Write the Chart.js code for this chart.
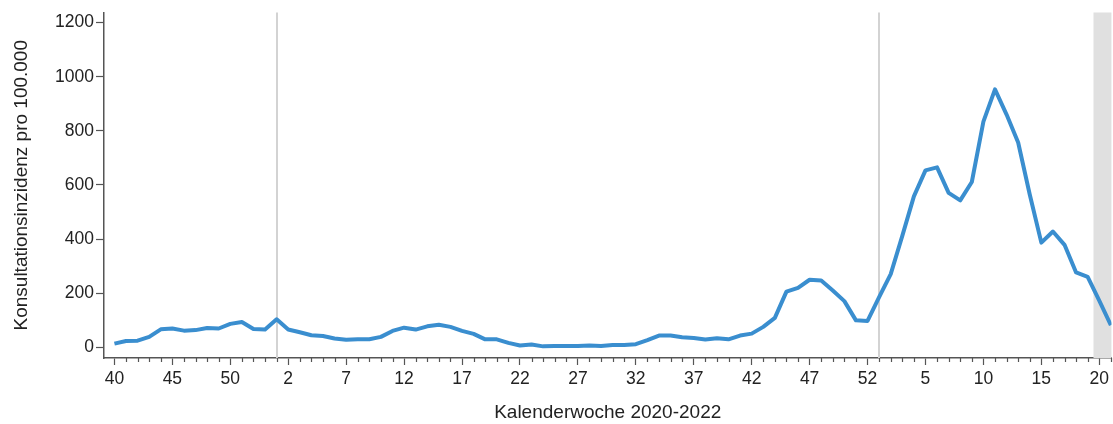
<!DOCTYPE html>
<html>
<head>
<meta charset="utf-8">
<script src="https://cdn.jsdelivr.net/npm/chart.js@4/dist/chart.umd.min.js"></script>
<style>
  html, body { margin: 0; padding: 0; background: #fff; }
  #wrap { width: 1113px; height: 424px; }
</style>
</head>
<body>
<div id="wrap"><canvas id="chart" width="1113" height="424"></canvas></div>
<script>
// Kalenderwochen KW 40/2020 bis KW 21/2022
const weekLabels = [
  40, 41, 42, 43, 44, 45, 46, 47, 48, 49, 50, 51, 52, 53,
  1, 2, 3, 4, 5, 6, 7, 8, 9, 10, 11, 12, 13, 14, 15, 16, 17, 18, 19, 20, 21, 22, 23, 24, 25, 26,
  27, 28, 29, 30, 31, 32, 33, 34, 35, 36, 37, 38, 39, 40, 41, 42, 43, 44, 45, 46, 47, 48, 49, 50, 51, 52,
  1, 2, 3, 4, 5, 6, 7, 8, 9, 10, 11, 12, 13, 14, 15, 16, 17, 18, 19, 20, 21
];

// Konsultationsinzidenz pro 100.000
const incidence = [
  14, 24, 25, 39, 67, 70, 62, 64, 72, 70, 87, 94, 68, 66,
  104, 66, 56, 45, 42, 33, 28, 30, 30, 39, 61, 73, 66, 78, 84, 76, 61, 50, 30, 30, 17, 7,
  11, 4, 5, 5, 5, 7, 5, 9, 9, 12, 27, 44, 44, 38, 35, 29, 34, 30, 44, 51, 76, 109, 206, 220,
  250, 247, 210, 171, 100, 98,
  186, 271, 412, 558, 654, 665, 571, 543, 611, 834, 953, 860, 757, 565, 387, 428, 379, 277, 261, 173, 82
];

const xTickIdx = [0, 5, 10, 15, 20, 25, 30, 35, 40, 45, 50, 55, 60, 65, 70, 75, 80, 85];
const yTicks = [0, 200, 400, 600, 800, 1000, 1200];
const seasonBreaks = [14, 66];   // Jahreswechsel (KW 1)
const shadeFrom = [84.5];        // grau hinterlegter Bereich bis zum Ende

const FONT = "'Liberation Sans', Arial, sans-serif";
const TEXT = '#222';
const AXIS = '#555';

const extras = {
  id: 'extras',
  beforeDatasetsDraw(chart) {
    const { ctx, chartArea: a, scales: { x } } = chart;
    ctx.save();
    const s = x.getPixelForValue(shadeFrom[0]);
    ctx.fillStyle = '#e0e0e0';
    ctx.fillRect(s, a.top, a.right - s, a.bottom - a.top);
    ctx.strokeStyle = '#d3d3d3';
    ctx.lineWidth = 2;
    seasonBreaks.forEach(v => {
      const px = Math.round(x.getPixelForValue(v));
      ctx.beginPath();
      ctx.moveTo(px, a.top);
      ctx.lineTo(px, a.bottom);
      ctx.stroke();
    });
    ctx.restore();
  },
  afterDraw(chart) {
    // kleine Striche fuer jede Woche
    const { ctx, scales: { x } } = chart;
    ctx.save();
    ctx.strokeStyle = AXIS;
    ctx.lineWidth = 1.2;
    weekLabels.forEach((w, i) => {
      if (xTickIdx.includes(i)) return;
      const px = Math.round(x.getPixelForValue(i)) + 0.5;
      ctx.beginPath();
      ctx.moveTo(px, x.top);
      ctx.lineTo(px, x.top + 4);
      ctx.stroke();
    });
    ctx.restore();
  }
};

new Chart(document.getElementById('chart'), {
  type: 'line',
  data: {
    datasets: [{
      data: incidence.map((v, i) => ({ x: i, y: v })),
      borderColor: '#3a8ecf',
      borderWidth: 4,
      borderJoinStyle: 'round',
      pointRadius: 0,
      tension: 0,
      fill: false
    }]
  },
  options: {
    responsive: false,
    animation: false,
    devicePixelRatio: 1,
    layout: { padding: { top: 10, right: 0, left: 0, bottom: 0 } },
    plugins: { legend: { display: false }, tooltip: { enabled: false } },
    scales: {
      x: {
        type: 'linear',
        min: -0.9,
        max: 86.05,
        afterBuildTicks: s => { s.ticks = xTickIdx.map(v => ({ value: v })); },
        afterFit: s => { s.height = 66; },
        grid: { drawOnChartArea: false, drawTicks: true, tickLength: 7, tickColor: AXIS, tickWidth: 1.2 },
        border: { color: AXIS, width: 1.5 },
        ticks: {
          autoSkip: false, maxRotation: 0, padding: 4,
          color: TEXT, font: { family: FONT, size: 17.5 },
          callback: v => weekLabels[v]
        },
        title: {
          display: true, text: 'Kalenderwoche 2020-2022',
          color: TEXT, font: { family: FONT, size: 19 }, padding: { top: 0, bottom: 0 }
        }
      },
      y: {
        min: -39,
        max: 1237,
        afterBuildTicks: s => { s.ticks = yTicks.map(v => ({ value: v })); },
        afterFit: s => { s.width = 104; },
        grid: { drawOnChartArea: false, drawTicks: true, tickLength: 8, tickColor: AXIS, tickWidth: 1.2 },
        border: { color: AXIS, width: 1.5 },
        ticks: {
          padding: 2, color: TEXT, font: { family: FONT, size: 17.5 },
          callback: v => String(v)
        },
        title: {
          display: true, text: 'Konsultationsinzidenz pro 100.000',
          color: TEXT, font: { family: FONT, size: 19 }, padding: { top: 10, bottom: 0 }
        }
      }
    }
  },
  plugins: [extras]
});
</script>
</body>
</html>
